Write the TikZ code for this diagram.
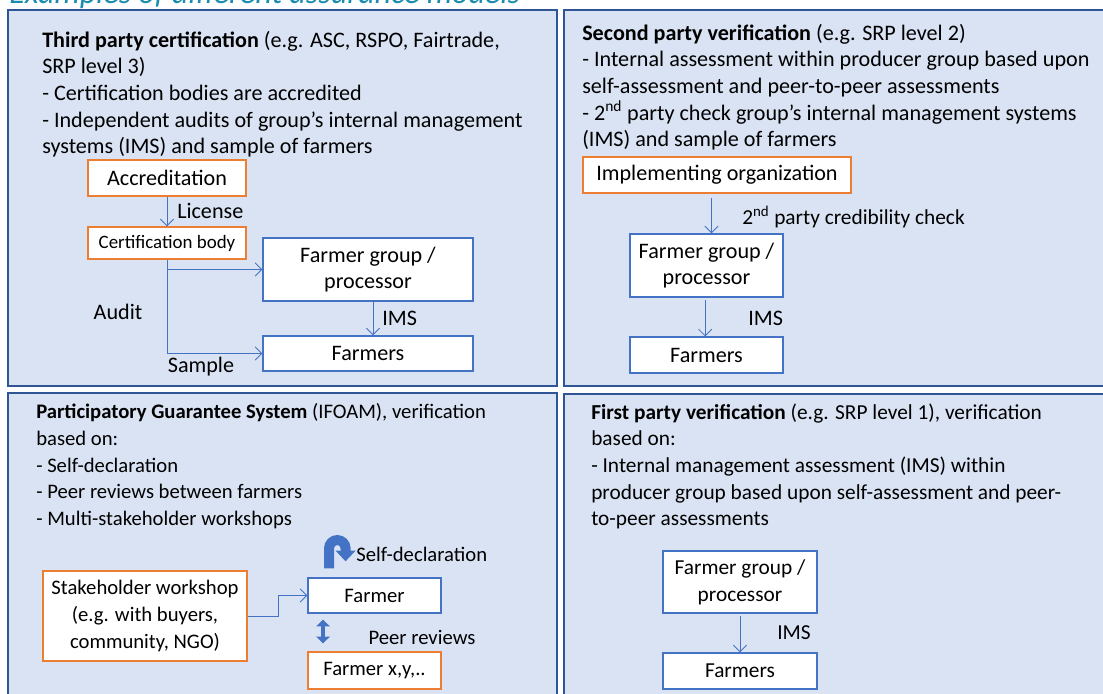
\documentclass[tikz,border=0pt]{standalone}
\usepackage{fontspec}
\setmainfont{Carlito}
\usetikzlibrary{arrows.meta}
\definecolor{panelfill}{HTML}{DAE3F3}
\definecolor{panelline}{HTML}{2F5597}
\definecolor{boxblue}{HTML}{4472C4}
\definecolor{boxorange}{HTML}{ED7D31}
\definecolor{titleblue}{HTML}{1A8CB0}
\begin{document}
\begin{tikzpicture}[x=0.75pt, y=-0.75pt,
      every node/.style={font=\fontsize{16.6}{20}\selectfont},
      small/.style={font=\fontsize{15.5}{20}\selectfont},
      mid/.style={font=\fontsize{16}{20}\selectfont},
      panel/.style={draw=panelline, fill=panelfill, line width=1.2pt},
      bluebox/.style={draw=boxblue, fill=white, line width=1pt, align=center, inner sep=0pt},
      orangebox/.style={draw=boxorange, fill=white, line width=1pt, align=center, inner sep=0pt},
      conn/.style={draw=boxblue, line width=0.6pt, -{Straight Barb[length=5pt,width=10pt]}},
      uturn/.style={draw=boxblue, line width=7.5pt, -{Triangle[length=8pt,width=14.5pt]}},
      dblarrow/.style={draw=boxblue, line width=3.5pt, {Triangle[length=5pt,width=10pt]}-{Triangle[length=5pt,width=10pt]}},
      lbl/.style={inner sep=0pt},
      ptext/.style={anchor=base west, align=left, inner sep=0pt}]
   \useasboundingbox (0,0) rectangle (1103,693);
   % title, cut at the top
   \node[anchor=base west, inner sep=0pt, text=titleblue, font=\fontsize{24}{28}\selectfont\itshape] (title) at (9,3) {Examples of different assurance models};
   % the four panels
   \draw[panel] (8,10) rectangle (557,386);
   \draw[panel] (564,10) rectangle (1112,386);
   \draw[panel] (8,393) rectangle (557,702);
   \draw[panel] (564,394) rectangle (1112,702);

   % third party (base = last line)
   \node[ptext] (tptext) at (42,153.7) {\textbf{Third party certification} (e.g. ASC, RSPO, Fairtrade,\\SRP level 3)\\- Certification bodies are accredited\\- Independent audits of group’s internal management\\systems (IMS) and sample of farmers};
   \node[orangebox, minimum width=118.5pt, minimum height=27pt] (acc) at (167,178) {Accreditation};
   \node[orangebox, minimum width=118.5pt, minimum height=24pt, font=\fontsize{14.2}{17}\selectfont] (cb) at (167,243) {Certification body};
   \node[bluebox, minimum width=157.5pt, minimum height=47.25pt] (fg) at (368,269.5) {Farmer group /\\processor};
   \node[bluebox, minimum width=157.5pt, minimum height=26.25pt] (fa) at (368,353.5) {Farmers};
   \draw[conn] (acc) -- (cb);
   \draw[conn] (cb.south) |- (fa.west);
   \draw[conn] (cb.south |- fg.west) -- (fg.west);
   \draw[conn] ([xshift=3.75pt]fg.south) -- ([xshift=3.75pt]fa.north);
   \node[lbl, anchor=west] (license) at (177,211) {License};
   \node[lbl] (audit) at (118,312) {Audit};
   \node[lbl] (sample) at (201,367) {Sample};
   \node[lbl, anchor=west] (ims) at (382,318) {IMS};

   % second party
   \node[ptext] (sptext) at (582,146.7) {\textbf{Second party verification} (e.g. SRP level 2)\\- Internal assessment within producer group based upon\\self-assessment and peer-to-peer assessments\\- 2\textsuperscript{nd} party check group’s internal management systems\\(IMS) and sample of farmers};
   \node[orangebox, minimum width=201pt, minimum height=27pt] (io) at (717,175) {Implementing organization};
   \node[bluebox, minimum width=114.75pt, minimum height=47.25pt] (fgs) at (706.5,265.5) {Farmer group /\\processor};
   \node[bluebox, minimum width=114.75pt, minimum height=27pt] (fas) at (706.5,355) {Farmers};
   \draw[conn, shorten <=3pt] ([xshift=-4.1pt]io.south) -- ([xshift=-4.1pt]io.south |- fgs.north);
   \draw[conn, shorten <=2pt] ([xshift=-1pt]fgs.south) -- ([xshift=-1pt]fas.north);
   \node[lbl, anchor=west, mid] (check) at (742,217) {2\textsuperscript{nd} party credibility check};
   \node[lbl, anchor=west] (imss) at (748,318) {IMS};

   % participatory guarantee system
   \node[ptext, small] (pgtext) at (36,525.5) {\textbf{Participatory Guarantee System} (IFOAM), verification\\based on:\\- Self-declaration\\- Peer reviews between farmers\\- Multi-stakeholder workshops};
   \node[orangebox, small, minimum width=153pt, minimum height=67.5pt] (sw) at (145,616) {Stakeholder workshop\\(e.g. with buyers,\\community, NGO)};
   \node[bluebox, small, minimum width=99.75pt, minimum height=26.25pt] (fr) at (374.5,595.5) {Farmer};
   \node[orangebox, small, minimum width=99.75pt, minimum height=27.75pt] (fxy) at (374.5,670.5) {Farmer x,y,..};
   \draw[conn] (sw.east) -- ++(31,0) |- (fr.west);
   \draw[uturn] ([xshift=-34.1pt,yshift=6.75pt]fr.north) -- ++(0,-20) arc[start angle=180, end angle=0, radius=6.2pt] -- ++(0,13);
   \draw[dblarrow] ([xshift=-38.6pt,yshift=-4.5pt]fr.south) -- ([xshift=-38.6pt,yshift=6pt]fxy.north);
   \node[lbl, anchor=west, small] (selfdecl) at (356,554) {Self-declaration};
   \node[lbl, small] (peer) at (422,637) {Peer reviews};

   % first party
   \node[ptext, mid] (fptext) at (591,525.7) {\textbf{First party verification} (e.g. SRP level 1), verification\\based on:\\- Internal management assessment (IMS) within\\producer group based upon self-assessment and peer-\\to-peer assessments};
   \node[bluebox, mid, minimum width=115.5pt, minimum height=46.5pt] (fgf) at (740,582) {Farmer group /\\processor};
   \node[bluebox, mid, minimum width=115.5pt, minimum height=27pt] (faf) at (740,671) {Farmers};
   \draw[conn, shorten <=2pt] (fgf) -- (faf);
   \node[lbl, anchor=west, mid] (imsf) at (777,633) {IMS};
\end{tikzpicture}
\end{document}
